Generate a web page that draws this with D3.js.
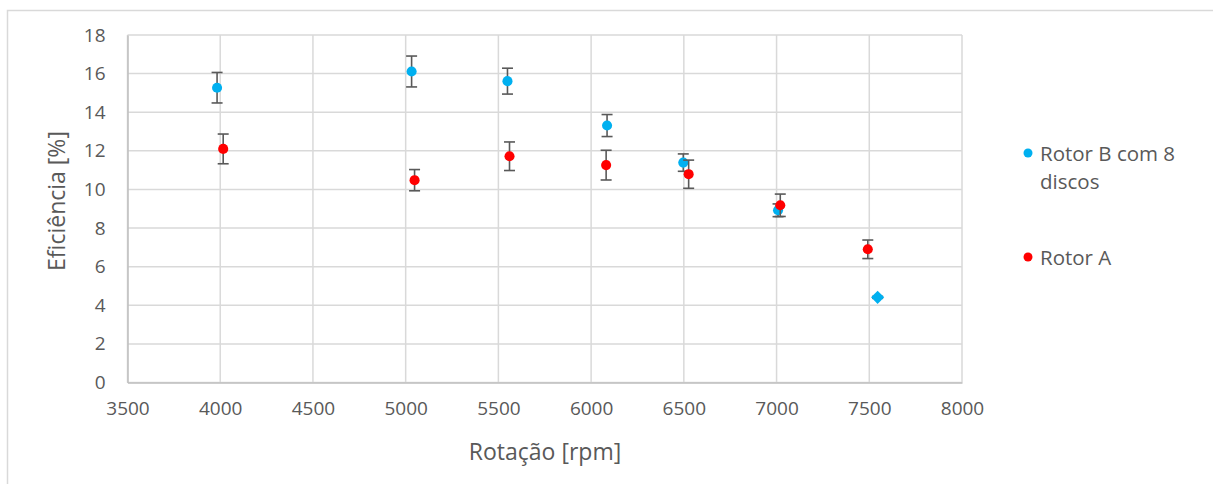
<!DOCTYPE html>
<html>
<head>
<meta charset="utf-8">
<script src="https://cdn.jsdelivr.net/npm/d3@7"></script>
<style>
  html, body { margin: 0; padding: 0; background: #fff; }
  svg { display: block; font-family: "Open Sans", "Noto Sans", sans-serif; }
</style>
</head>
<body>
<svg id="chart" width="1213" height="484"></svg>
<script>
/* ── Data ─────────────────────────────────────────────── */
const seriesNames = ["Rotor B com 8 discos", "Rotor A"];
const seriesColors = ["#00b0f0", "#ff0000"];

const rotorB_rpm = [3983, 5032, 5549, 6086, 6497, 7008, 7545];
const rotorB_eff = [15.27, 16.11, 15.61, 13.31, 11.39, 8.92, 4.41];
const rotorB_err = [0.79, 0.80, 0.67, 0.57, 0.45, 0.33, 0.05];

const rotorA_rpm = [4016, 5048, 5560, 6081, 6526, 7020, 7492];
const rotorA_eff = [12.10, 10.48, 11.72, 11.26, 10.79, 9.18, 6.90];
const rotorA_err = [0.77, 0.55, 0.74, 0.77, 0.73, 0.58, 0.48];

const xTicks = [3500, 4000, 4500, 5000, 5500, 6000, 6500, 7000, 7500, 8000];
const yTicks = [0, 2, 4, 6, 8, 10, 12, 14, 16, 18];

/* ── Setup ────────────────────────────────────────────── */
const svg = d3.select("#chart");
const x = d3.scaleLinear().domain([3500, 8000]).range([127.5, 962]);
const y = d3.scaleLinear().domain([0, 18]).range([382.5, 35]);

const grid = "#d9d9d9", txt = "#595959";

// outer chart border
svg.append("rect")
  .attr("x", 7.5).attr("y", 10.5).attr("width", 1230).attr("height", 500)
  .attr("fill", "#fff").attr("stroke", grid).attr("stroke-width", 1.5);

// gridlines
svg.append("g").selectAll("line").data(yTicks).join("line")
  .attr("x1", x.range()[0]).attr("x2", x.range()[1])
  .attr("y1", d => y(d)).attr("y2", d => y(d))
  .attr("stroke", grid).attr("stroke-width", 1.5);
svg.append("g").selectAll("line").data(xTicks).join("line")
  .attr("x1", d => x(d)).attr("x2", d => x(d))
  .attr("y1", y.range()[0]).attr("y2", y.range()[1])
  .attr("stroke", grid).attr("stroke-width", 1.5);

// axes
const xAxis = svg.append("g").attr("transform", `translate(0,${y(0)})`)
  .call(d3.axisBottom(x).tickValues(xTicks).tickSize(0).tickPadding(19).tickFormat(d3.format("d")));
const yAxis = svg.append("g").attr("transform", `translate(${x(3500)},0)`)
  .call(d3.axisLeft(y).tickValues(yTicks).tickSize(0).tickPadding(22).tickFormat(d3.format("d")));
[xAxis, yAxis].forEach(a => {
  a.select(".domain").attr("stroke", "#bfbfbf").attr("stroke-width", 1.5);
  a.selectAll("text").attr("fill", txt).attr("font-size", "19px")
    .attr("font-family", '"Open Sans", sans-serif');
});

// axis titles
svg.append("text").attr("x", 545).attr("y", 460).attr("text-anchor", "middle")
  .attr("fill", txt).attr("font-size", "23px").text("Rotação [rpm]");
svg.append("text").attr("transform", "translate(56,201) rotate(-90)")
  .attr("text-anchor", "middle").attr("dominant-baseline", "central")
  .attr("fill", txt).attr("font-size", "23px").text("Eficiência [%]");

/* ── Series ───────────────────────────────────────────── */
const series = [
  { rpm: rotorB_rpm, eff: rotorB_eff, err: rotorB_err, color: seriesColors[0] },
  { rpm: rotorA_rpm, eff: rotorA_eff, err: rotorA_err, color: seriesColors[1] }
];

series.forEach((s, si) => {
  const pts = s.rpm.map((r, i) => ({ r, e: s.eff[i], d: s.err[i], last: si === 0 && i === s.rpm.length - 1 }));
  const g = svg.append("g");
  const cap = 5.5;
  const eb = g.append("g").attr("stroke", "#595959").attr("stroke-width", 1.6);
  pts.forEach(p => {
    eb.append("line").attr("x1", x(p.r)).attr("x2", x(p.r)).attr("y1", y(p.e - p.d)).attr("y2", y(p.e + p.d));
    [p.e - p.d, p.e + p.d].forEach(v =>
      eb.append("line").attr("x1", x(p.r) - cap).attr("x2", x(p.r) + cap).attr("y1", y(v)).attr("y2", y(v)));
  });
  g.selectAll("path.m").data(pts).join("path").attr("class", "m")
    .attr("transform", p => `translate(${x(p.r)},${y(p.e)})`)
    .attr("d", p => d3.symbol().type(p.last ? d3.symbolDiamond2 : d3.symbolCircle).size(p.last ? 110 : 80)())
    .attr("fill", s.color);
});

/* ── Legend ───────────────────────────────────────────── */
const lg = svg.append("g").attr("font-size", "20.5px").attr("fill", txt);
lg.append("circle").attr("cx", 1028).attr("cy", 153).attr("r", 4.5).attr("fill", seriesColors[0]);
lg.append("text").attr("x", 1040).attr("y", 161).text("Rotor B com 8");
lg.append("text").attr("x", 1040).attr("y", 189).text("discos");
lg.append("circle").attr("cx", 1028).attr("cy", 257).attr("r", 4.5).attr("fill", seriesColors[1]);
lg.append("text").attr("x", 1040).attr("y", 265).text("Rotor A");
</script>
</body>
</html>
